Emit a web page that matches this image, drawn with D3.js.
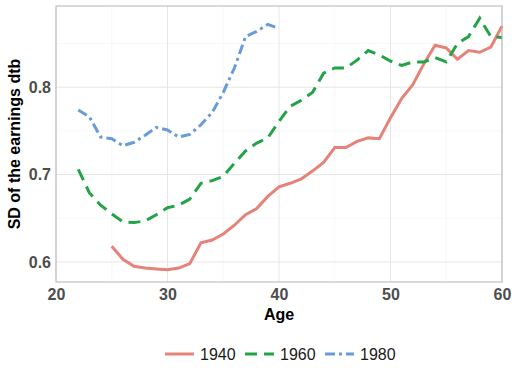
<!DOCTYPE html>
<html>
<head>
<meta charset="utf-8">
<script src="https://cdn.jsdelivr.net/npm/d3@7"></script>
<style>
  body { margin: 0; background: #fff; }
  text { font-family: Arial, "Liberation Sans", sans-serif; }
</style>
</head>
<body>
<script>
// Donnees
var ages1940 = d3.range(25, 61)
var sd1940 = [0.618, 0.603, 0.595, 0.593, 0.592, 0.591, 0.593, 0.598, 0.622, 0.625,
    0.632, 0.642, 0.654, 0.661, 0.675, 0.686, 0.690, 0.695, 0.704, 0.714,
    0.731, 0.731, 0.738, 0.742, 0.741, 0.765, 0.787, 0.803, 0.827, 0.848,
    0.845, 0.832, 0.842, 0.840, 0.846, 0.870]

var ages1960 = d3.range(22, 61)
var sd1960 = [0.706, 0.679, 0.665, 0.655, 0.646, 0.645, 0.647, 0.654, 0.662, 0.665,
    0.672, 0.690, 0.693, 0.698, 0.713, 0.727, 0.736, 0.742, 0.761, 0.778,
    0.785, 0.794, 0.816, 0.822, 0.822, 0.831, 0.842, 0.837, 0.830, 0.825,
    0.829, 0.829, 0.834, 0.829, 0.850, 0.858, 0.879, 0.858, 0.857]

var ages1980 = d3.range(22, 41)
var sd1980 = [0.774, 0.766, 0.743, 0.741, 0.733, 0.737, 0.745, 0.754, 0.751, 0.743,
    0.746, 0.757, 0.771, 0.794, 0.822, 0.858, 0.864, 0.872, 0.867]

var cohorts = ['1940', '1960', '1980']
var xTicks = [20, 30, 40, 50, 60]
var yTicks = [0.6, 0.7, 0.8]

// Couleurs et styles
var colours = { '1940': '#e5827a', '1960': '#23a347', '1980': '#6a9bd9' }
var dashes = { '1940': null, '1960': '12,7', '1980': '10,4,3,4' }

var width = 512
var height = 384
var panel = { left: 56, right: 502, top: 6, bottom: 282 }

var series = [
    { name: '1940', values: ages1940.map((a, i) => ({ age: a, sd: sd1940[i] })) },
    { name: '1960', values: ages1960.map((a, i) => ({ age: a, sd: sd1960[i] })) },
    { name: '1980', values: ages1980.map((a, i) => ({ age: a, sd: sd1980[i] })) }
]

var x = d3.scaleLinear().domain([20, 60]).range([panel.left, panel.right])
var y = d3.scaleLinear().domain([0.577, 0.893]).range([panel.bottom, panel.top])

var svg = d3.select('body').append('svg')
    .attr('width', width)
    .attr('height', height)

// Grille
var minorX = [25, 35, 45, 55]
var minorY = [0.65, 0.75, 0.85]

svg.append('g').selectAll('line').data(minorX).join('line')
    .attr('x1', d => x(d)).attr('x2', d => x(d))
    .attr('y1', panel.top).attr('y2', panel.bottom)
    .attr('stroke', '#f2f2f2').attr('stroke-width', 0.6)
svg.append('g').selectAll('line').data(minorY).join('line')
    .attr('y1', d => y(d)).attr('y2', d => y(d))
    .attr('x1', panel.left).attr('x2', panel.right)
    .attr('stroke', '#f2f2f2').attr('stroke-width', 0.6)
svg.append('g').selectAll('line').data(xTicks).join('line')
    .attr('x1', d => x(d)).attr('x2', d => x(d))
    .attr('y1', panel.top).attr('y2', panel.bottom)
    .attr('stroke', '#e6e6e6').attr('stroke-width', 1)
svg.append('g').selectAll('line').data(yTicks).join('line')
    .attr('y1', d => y(d)).attr('y2', d => y(d))
    .attr('x1', panel.left).attr('x2', panel.right)
    .attr('stroke', '#e6e6e6').attr('stroke-width', 1)

// Courbes
var line = d3.line().x(d => x(d.age)).y(d => y(d.sd))

svg.append('g').selectAll('path').data(series).join('path')
    .attr('d', d => line(d.values))
    .attr('fill', 'none')
    .attr('stroke', d => colours[d.name])
    .attr('stroke-width', 3)
    .attr('stroke-dasharray', d => dashes[d.name])

// Cadre
svg.append('rect')
    .attr('x', panel.left).attr('y', panel.top)
    .attr('width', panel.right - panel.left)
    .attr('height', panel.bottom - panel.top)
    .attr('fill', 'none')
    .attr('stroke', '#b3b3b3')
    .attr('stroke-width', 1)

// Axes
var xAxis = svg.append('g')
    .attr('transform', 'translate(0,' + panel.bottom + ')')
    .call(d3.axisBottom(x).tickValues(xTicks).tickSize(0).tickPadding(7).tickFormat(d3.format('d')))
xAxis.select('.domain').remove()
xAxis.selectAll('text')
    .attr('fill', '#4d4d4d')
    .attr('font-size', '16px')
    .attr('font-weight', 'bold')

var yAxis = svg.append('g')
    .attr('transform', 'translate(' + panel.left + ',0)')
    .call(d3.axisLeft(y).tickValues(yTicks).tickSize(0).tickPadding(5).tickFormat(d3.format('.1f')))
yAxis.select('.domain').remove()
yAxis.selectAll('text')
    .attr('fill', '#4d4d4d')
    .attr('font-size', '16px')
    .attr('font-weight', 'bold')

svg.append('text')
    .attr('x', (panel.left + panel.right) / 2)
    .attr('y', 320)
    .attr('text-anchor', 'middle')
    .attr('font-size', '16px')
    .attr('font-weight', 'bold')
    .text('Age')

svg.append('text')
    .attr('transform', 'translate(20,' + (panel.top + panel.bottom) / 2 + ') rotate(-90)')
    .attr('text-anchor', 'middle')
    .attr('font-size', '16px')
    .attr('font-weight', 'bold')
    .text('SD of the earnings dtb')

// Legende
var legendX = [165, 245, 325]
var legend = svg.append('g').selectAll('g').data(cohorts).join('g')
    .attr('transform', (d, i) => 'translate(' + legendX[i] + ',354)')

legend.append('line')
    .attr('x1', 0).attr('x2', 29)
    .attr('stroke', d => colours[d])
    .attr('stroke-width', 3)
    .attr('stroke-dasharray', d => dashes[d])

legend.append('text')
    .attr('x', 35)
    .attr('dy', '0.35em')
    .attr('font-size', '16px')
    .attr('fill', '#1a1a1a')
    .text(d => d)
</script>
</body>
</html>
